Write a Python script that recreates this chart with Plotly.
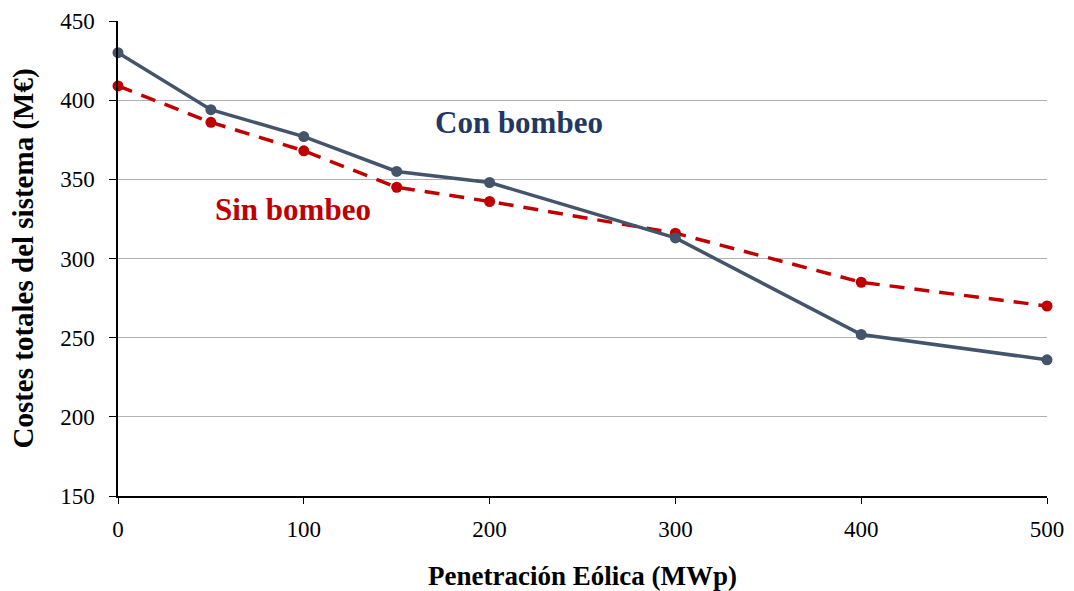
import plotly.graph_objects as go

# Installed wind capacity (MWp)
penetracion = [0, 50, 100, 150, 200, 300, 400, 500]
# Total system costs (M€)
con_bombeo = [430, 394, 377, 355, 348, 313, 252, 236]
sin_bombeo = [409, 386, 368, 345, 336, 316, 285, 270]

x_ticks = [0, 100, 200, 300, 400, 500]
y_ticks = [150, 200, 250, 300, 350, 400, 450]

SERIF = "Liberation Serif, Times New Roman, serif"
SLATE = "#44546A"
RED = "#C00000"
NAVY = "#1F3864"

fig = go.Figure()
fig.add_trace(go.Scatter(
    x=penetracion, y=sin_bombeo, mode="lines+markers", name="Sin bombeo",
    line=dict(color=RED, width=3.5, dash="15px,10px"),
    marker=dict(color=RED, size=11, symbol="circle"),
    cliponaxis=False,
))
fig.add_trace(go.Scatter(
    x=penetracion, y=con_bombeo, mode="lines+markers", name="Con bombeo",
    line=dict(color=SLATE, width=3.5),
    marker=dict(color=SLATE, size=11, symbol="circle"),
    cliponaxis=False,
))

fig.add_annotation(x=216, y=386, xref="x", yref="y", text="<b>Con bombeo</b>",
                   showarrow=False, font=dict(family=SERIF, size=31, color=NAVY))
fig.add_annotation(x=94, y=331, xref="x", yref="y", text="<b>Sin bombeo</b>",
                   showarrow=False, font=dict(family=SERIF, size=31, color=RED))

fig.update_layout(
    width=1074, height=591,
    margin=dict(l=118, r=27, t=21, b=95),
    paper_bgcolor="white", plot_bgcolor="white",
    showlegend=False,
    font=dict(family=SERIF, size=23, color="black"),
    xaxis=dict(
        range=[0, 500], tickvals=x_ticks, showgrid=False, zeroline=False,
        showline=True, linecolor="black", linewidth=1.5, automargin=False,
        ticks="outside", ticklen=6, tickcolor="black", ticklabelstandoff=6,
        title=dict(text="<b>Penetración Eólica (MWp)</b>", standoff=30,
                   font=dict(family=SERIF, size=27)),
    ),
    yaxis=dict(
        range=[150, 450], tickvals=y_ticks, showgrid=True,
        gridcolor="#B0B0B0", gridwidth=1, zeroline=False,
        showline=True, linecolor="black", linewidth=1.5, automargin=False,
        ticks="outside", ticklen=7, tickcolor="black", ticklabelstandoff=10,
        title=dict(text="<b>Costes totales del sistema (M€)</b>", standoff=18,
                   font=dict(family=SERIF, size=29)),
    ),
)

fig.write_html("out.html")
